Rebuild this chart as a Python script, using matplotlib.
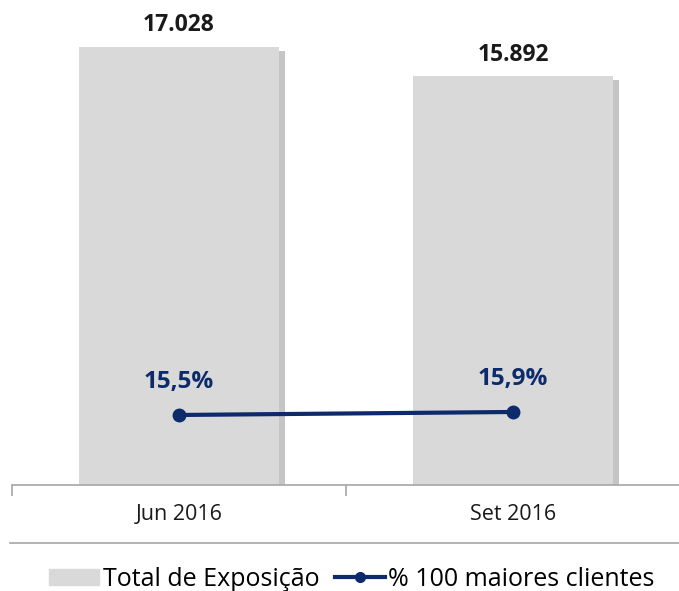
import matplotlib.pyplot as plt
import matplotlib.patheffects as pe
from matplotlib.lines import Line2D

# Data
categories = ["Jun 2016", "Set 2016"]
exposicao = [17.028, 15.892]
pct_clientes = [15.5, 15.9]
exposicao_labels = ["17.028", "15.892"]
pct_labels = ["15,5%", "15,9%"]

plt.rcParams['font.family'] = ['Open Sans', 'DejaVu Sans']

bar_color = "#d9d9d9"
line_color = "#0d2a6b"
axis_color = "#a6a6a6"

fig = plt.figure(figsize=(6.79, 5.91), dpi=100)
ax = fig.add_axes([12 / 679, 106 / 591, 668 / 679, 485 / 591])

x = list(range(len(categories)))
bars = ax.bar(x, exposicao, width=0.6, color=bar_color, zorder=2,
              path_effects=[pe.SimplePatchShadow(offset=(4, -3), shadow_rgbFace="#808080", alpha=0.45),
                            pe.Normal()])
ax.set_xlim(-0.5, 1.5)
ax.set_ylim(0, 18.86)

for xi, v, lab in zip(x, exposicao, exposicao_labels):
    ax.annotate(lab, (xi, v), xytext=(0, 7), textcoords="offset points",
                ha="center", va="bottom", fontsize=16.5, fontweight="bold", color="#1a1a1a")

# secondary axis for percentage line
ax2 = ax.twinx()
ax2.set_ylim(6.17, 70.8)
ax2.plot(x, pct_clientes, color=line_color, lw=3, marker="o", markersize=9, zorder=3)
for xi, v, lab in zip(x, pct_clientes, pct_labels):
    ax2.annotate(lab, (xi, v), xytext=(0, 15), textcoords="offset points",
                 ha="center", va="bottom", fontsize=17.5, fontweight="bold", color=line_color)

for a in (ax, ax2):
    for s in ["top", "right", "left"]:
        a.spines[s].set_visible(False)
    a.set_yticks([])
ax2.spines["bottom"].set_visible(False)
ax.spines["bottom"].set_color(axis_color)
ax.spines["bottom"].set_linewidth(1.2)

ax.set_xticks(x)
ax.set_xticklabels(categories, fontsize=15.5)
ax.tick_params(axis="x", which="major", length=0, pad=14, colors="#1a1a1a")
ax.set_xticks([-0.5, 0.5, 1.5], minor=True)
ax.tick_params(axis="x", which="minor", length=8, width=1.2, color=axis_color)

# line below category labels
fig.add_artist(Line2D([10 / 679, 1.0], [48 / 591, 48 / 591], color=axis_color, lw=1.2))

handles = [plt.Rectangle((0, 0), 1, 1, color=bar_color),
           Line2D([0], [0], color=line_color, lw=3, marker="o", markersize=7)]
fig.legend(handles, ["Total de Exposição", "% 100 maiores clientes"],
           loc="center", bbox_to_anchor=(352 / 679, 12 / 591), ncol=2, frameon=False,
           fontsize=18, handlelength=2.0, handleheight=0.6, handletextpad=0.15,
           columnspacing=0.6)

fig.savefig("out.png", dpi=100)
